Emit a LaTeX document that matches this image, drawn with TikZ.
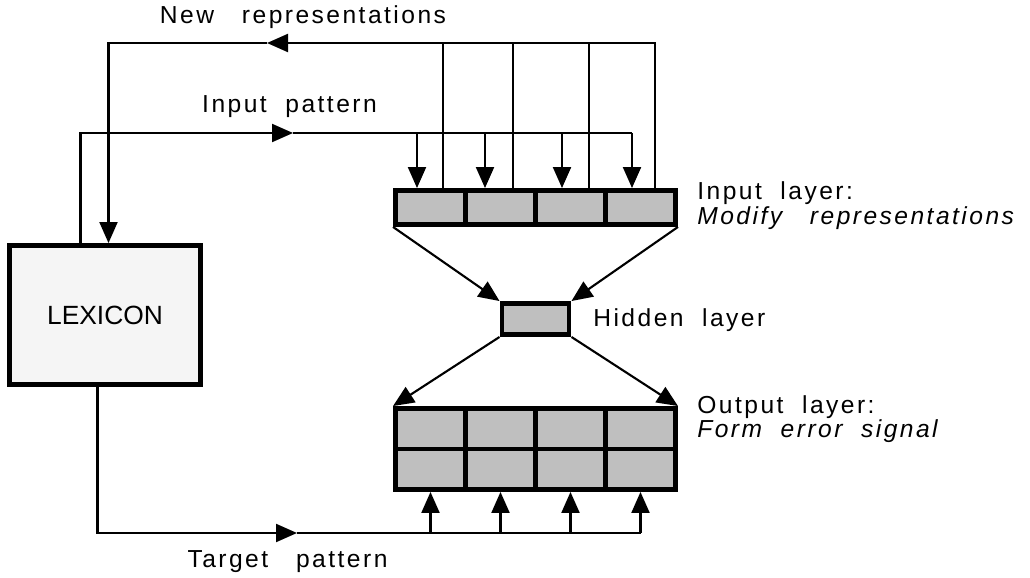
\documentclass[tikz,border=0pt]{standalone}
\usepackage{fontspec}
\setmainfont{Liberation Sans}
\newfontfamily\espaciada[LetterSpace=10]{Liberation Sans}
\usetikzlibrary{arrows.meta}

\begin{document}
\begin{tikzpicture}[
      rot/.style={font=\espaciada\fontsize{14}{12.8}\selectfont, inner sep=0pt},
      lexico/.style={draw, line width=2.8pt, fill=black!4, font=\fontsize{15}{17}\selectfont,
                     minimum width=3.82cm, minimum height=2.78cm},
      celda/.style={draw, line width=2.8pt, fill=black!25, inner sep=0pt,
                    minimum width=1.40cm, minimum height=0.68cm},
      alta/.style={minimum height=0.81cm},
      flujo/.style={-{Triangle[length=0.42cm,width=0.36cm]}, line width=1.2pt},
      linea/.style={line width=1.2pt}
    ]
    \useasboundingbox (0,0) rectangle (20.6,-11.56);

    \node[lexico] (lex) at (2.10,-6.30) {LEXICON};

    % capa de entrada
    \node[celda] (e1) at (8.61,-4.15) {};
    \node[celda] (e2) at (10.01,-4.15) {};
    \node[celda] (e3) at (11.41,-4.15) {};
    \node[celda] (e4) at (12.81,-4.15) {};

    % capa oculta
    \node[celda, minimum width=1.34cm, minimum height=0.62cm] (oc) at (10.71,-6.38) {};

    % capa de salida, dos filas
    \node[celda, alta] (sa1) at (8.61,-8.575) {};
    \node[celda, alta] (sa2) at (10.01,-8.575) {};
    \node[celda, alta] (sa3) at (11.41,-8.575) {};
    \node[celda, alta] (sa4) at (12.81,-8.575) {};
    \node[celda, alta] (sb1) at (8.61,-9.385) {};
    \node[celda, alta] (sb2) at (10.01,-9.385) {};
    \node[celda, alta] (sb3) at (11.41,-9.385) {};
    \node[celda, alta] (sb4) at (12.81,-9.385) {};

    \draw[flujo] (e1.south west) -- (oc.north west);
    \draw[flujo] (e4.south east) -- (oc.north east);
    \draw[flujo] (oc.south west) -- (sa1.north west);
    \draw[flujo] (oc.south east) -- (sa4.north east);

    % patron de entrada
    \coordinate (ipa) at (1.61,-2.66);
    \coordinate (ipm) at (5.86,-2.66);
    \draw[flujo] (lex.north -| ipa) -- (ipa) -- (ipm);
    \draw[linea] (ipm) -- ([xshift=-0.17cm]e4.north |- ipa);
    \draw[flujo] ([xshift=-0.27cm]e1.north |- ipa) -- ([xshift=-0.27cm]e1.north);
    \draw[flujo] ([xshift=-0.31cm]e2.north |- ipa) -- ([xshift=-0.31cm]e2.north);
    \draw[flujo] ([xshift=-0.17cm]e3.north |- ipa) -- ([xshift=-0.17cm]e3.north);
    \draw[flujo] ([xshift=-0.17cm]e4.north |- ipa) -- ([xshift=-0.17cm]e4.north);

    % nuevas representaciones
    \coordinate (nra) at (2.17,-0.86);
    \coordinate (nrm) at (5.34,-0.86);
    \draw[flujo] ([xshift=0.29cm]e4.north) |- (nrm);
    \draw[flujo] (nrm) -- (nra) -- (lex.north -| nra);
    \draw[linea] ([xshift=0.25cm]e1.north) -- ([xshift=0.25cm]e1.north |- nra);
    \draw[linea] ([xshift=0.25cm]e2.north) -- ([xshift=0.25cm]e2.north |- nra);
    \draw[linea] ([xshift=0.37cm]e3.north) -- ([xshift=0.37cm]e3.north |- nra);

    % patron objetivo
    \coordinate (tpa) at (1.95,-10.66);
    \coordinate (tpm) at (5.94,-10.66);
    \draw[flujo] (lex.south -| tpa) -- (tpa) -- (tpm);
    \draw[linea] (tpm) -- (sb4.south |- tpa);
    \draw[flujo] (sb1.south |- tpa) -- (sb1.south);
    \draw[flujo] (sb2.south |- tpa) -- (sb2.south);
    \draw[flujo] (sb3.south |- tpa) -- (sb3.south);
    \draw[flujo] (sb4.south |- tpa) -- (sb4.south);

    \node[rot] (tnr) at (6.06,-0.34) {New~~~representations};
    \node[rot] (tip) at (5.79,-2.14) {Input~~pattern};
    \node[rot] (ttp) at (5.75,-11.24) {Target~~~pattern};
    \node[rot, anchor=west, align=left] (tent) at (13.94,-4.11)
      {Input~~layer:\\\textit{Modify~~~representations}};
    \node[rot, anchor=west] (toc) at (11.86,-6.40) {Hidden~~layer};
    \node[rot, anchor=west, align=left] (tsal) at (13.94,-8.38)
      {Output~~layer:\\\textit{Form~~error~~signal}};
  \end{tikzpicture}
\end{document}
